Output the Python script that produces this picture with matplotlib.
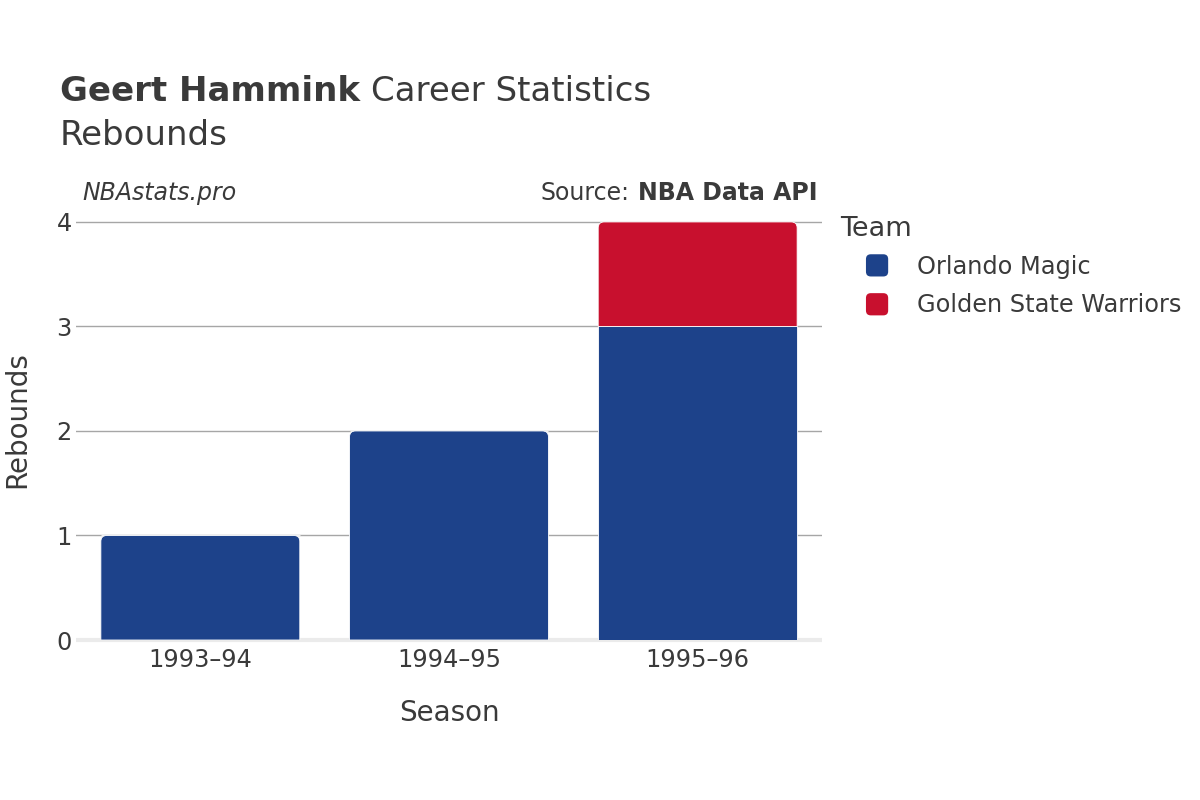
import matplotlib
matplotlib.use("Agg")
import matplotlib.pyplot as plt
from matplotlib.path import Path
from matplotlib.patches import PathPatch, FancyBboxPatch
from matplotlib.legend_handler import HandlerPatch
import matplotlib.patches as mpatches

# ---- data ----
seasons = ["1993\u201394", "1994\u201395", "1995\u201396"]
teams = ["Orlando Magic", "Golden State Warriors"]
orlando = [1, 2, 3]
golden_state = [0, 0, 1]
team_colors = ["#1d428a", "#c8102e"]
yticks = [0, 1, 2, 3, 4]

TEXT = "#3a3a3a"
plt.rcParams['font.family'] = ['DejaVu Sans']

fig = plt.figure(figsize=(12, 8), dpi=100)
ax = fig.add_axes([76/1200, 0.2, (822-76)/1200, 0.55])
ax.set_xlim(-0.5, 2.5)
ax.set_ylim(0, 4.21)

for s in ax.spines.values():
    s.set_visible(False)
ax.set_yticks(yticks)
ax.yaxis.grid(True, color="#a6a6a6", linewidth=1.0)
ax.set_axisbelow(True)
ax.tick_params(axis='y', length=0, pad=3, labelsize=17.3, labelcolor=TEXT)
ax.tick_params(axis='x', length=0, pad=6, labelsize=17.3, labelcolor=TEXT)
ax.axhline(0, color="#ebebeb", linewidth=3.0, zorder=1, clip_on=False,
           solid_capstyle="butt")

x = list(range(len(seasons)))
series = [orlando, golden_state]
bottoms = [0] * len(seasons)
all_bars = []
for vals, col, name in zip(series, team_colors, teams):
    bars = ax.bar(x, vals, width=0.8, bottom=bottoms, color=col,
                  edgecolor="white", linewidth=0.6, label=name, zorder=2)
    all_bars.append(bars)
    bottoms = [b + v for b, v in zip(bottoms, vals)]
ax.set_xticks(x)
ax.set_xticklabels(seasons)

# round top corners of the top segment of each stack
fig.canvas.draw()
p0 = ax.transData.transform((0, 0))
p1 = ax.transData.transform((1, 1))
px_x = p1[0] - p0[0]
px_y = p1[1] - p0[1]
R = 6.0
rx, ry = R / px_x, R / px_y
totals = bottoms
for bars in all_bars:
    for i, rect in enumerate(bars):
        h = rect.get_height()
        if h <= 0:
            continue
        x0 = rect.get_x(); y0 = rect.get_y(); w = rect.get_width()
        x1 = x0 + w; y1 = y0 + h
        if abs(y1 - totals[i]) < 1e-9:
            verts = [(x0, y0), (x0, y1 - ry), (x0, y1), (x0 + rx, y1),
                     (x1 - rx, y1), (x1, y1), (x1, y1 - ry), (x1, y0), (x0, y0)]
            codes = [Path.MOVETO, Path.LINETO, Path.CURVE3, Path.CURVE3,
                     Path.LINETO, Path.CURVE3, Path.CURVE3, Path.LINETO, Path.CLOSEPOLY]
            patch = PathPatch(Path(verts, codes), facecolor=rect.get_facecolor(),
                              edgecolor="white", linewidth=0.6, zorder=2)
            rect.set_visible(False)
            ax.add_patch(patch)

ax.set_xlabel("Season", fontsize=20, color=TEXT, labelpad=19)
ax.set_ylabel("Rebounds", fontsize=20, color=TEXT, labelpad=18)

# titles
fig.text(60/1200, 1 - 101/800, "Geert Hammink", fontsize=24.5, fontweight="bold",
         color=TEXT, ha="left", va="baseline")
fig.text(371/1200, 1 - 101/800, "Career Statistics", fontsize=24.5,
         color=TEXT, ha="left", va="baseline")
fig.text(60/1200, 1 - 145/800, "Rebounds", fontsize=24.5, color=TEXT,
         ha="left", va="baseline")
fig.text(82/1200, 1 - 200/800, "NBAstats.pro", fontsize=17, style="italic",
         color=TEXT, ha="left", va="baseline")
t_src = fig.text(818/1200, 1 - 200/800, "NBA Data API", fontsize=17, fontweight="bold",
                 color=TEXT, ha="right", va="baseline")
fig.canvas.draw()
bb = t_src.get_window_extent()
fig.text((bb.x0 - 9) / 1200, 1 - 200/800, "Source:", fontsize=17, color=TEXT,
         ha="right", va="baseline")


class RoundHandler(HandlerPatch):
    def create_artists(self, legend, orig_handle, xdescent, ydescent, width, height,
                       fontsize, trans):
        s = 16
        cx = -xdescent + width / 2
        cy = -ydescent + height / 2
        p = FancyBboxPatch((cx - s/2, cy - s/2), s, s,
                           boxstyle="round,pad=0,rounding_size=3.5",
                           facecolor=orig_handle.get_facecolor(), edgecolor="none",
                           transform=trans)
        return [p]


handles = [mpatches.Patch(facecolor=c, label=t) for c, t in zip(team_colors, teams)]
leg = fig.legend(handles=handles, loc="upper left", bbox_to_anchor=(823/1200, 1 - 199/800),
                 frameon=False, title="Team", title_fontsize=19.5, fontsize=17.3,
                 handler_map={mpatches.Patch: RoundHandler()},
                 handlelength=3.1, handleheight=1.0, handletextpad=0.13,
                 labelspacing=0.62, borderpad=0.2)
for t in leg.get_texts():
    t.set_color(TEXT)
leg.get_title().set_color(TEXT)
leg._legend_box.align = "left"
leg._legend_box.sep = 9.2

fig.savefig("out.png", dpi=100, facecolor="white")
